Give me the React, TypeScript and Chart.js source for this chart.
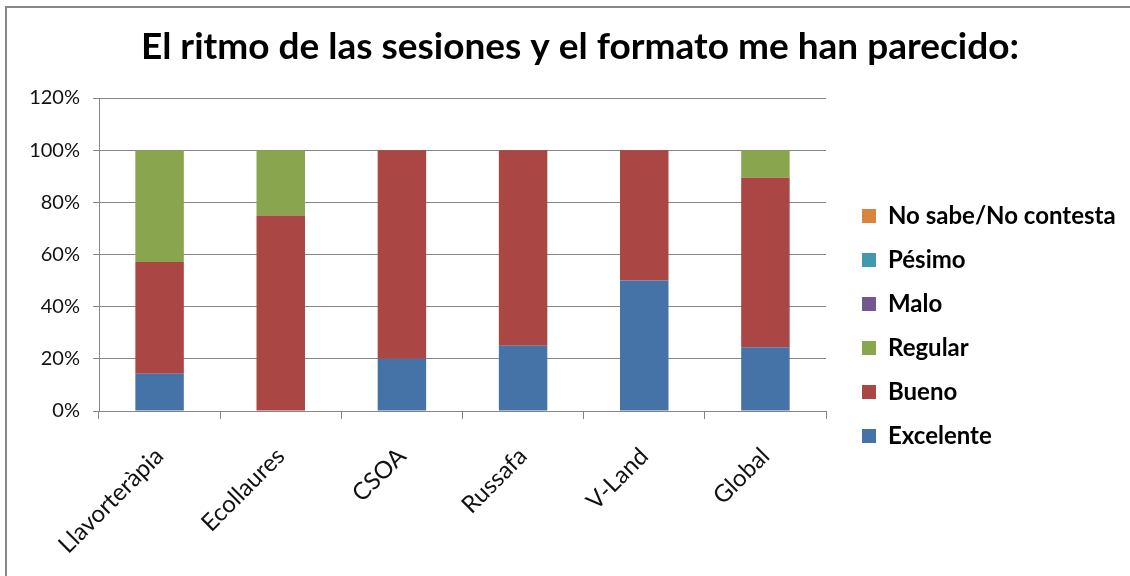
import React, { useEffect, useRef } from "react";
import { Chart, registerables } from "chart.js";

Chart.register(...registerables);

const titleText = "El ritmo de las sesiones y el formato me han parecido:";
const categories = ["Llavorteràpia", "Ecollaures", "CSOA", "Russafa", "V-Land", "Global"];
const excelente = [14.29, 0, 20, 25, 50, 24.4];
const bueno = [42.86, 75, 80, 75, 50, 65.0];
const regular = [42.85, 25, 0, 0, 0, 10.6];
const malo = [0, 0, 0, 0, 0, 0];
const pesimo = [0, 0, 0, 0, 0, 0];
const noSabe = [0, 0, 0, 0, 0, 0];

const seriesNames = ["Excelente", "Bueno", "Regular", "Malo", "Pésimo", "No sabe/No contesta"];
const seriesColors = ["#4572A7", "#AA4643", "#89A54E", "#71588F", "#4198AF", "#DB843D"];
const seriesValues = [excelente, bueno, regular, malo, pesimo, noSabe];

const FONT = "Lato";
const GRID = "#868686";

const legendPlacer = {
  id: "legendPlacer",
  beforeLayout(chart: any) {
    const lg = chart.legend;
    if (lg && !lg.__patched) {
      const orig = lg.fit.bind(lg);
      lg.fit = () => {
        orig();
        lg.width = 304;
      };
      lg.__patched = true;
    }
  },
  afterLayout(chart: any) {
    const lg = chart.legend;
    if (lg) {
      lg.left = 842;
      lg.top = 184;
    }
  },
};

export default function App() {
  const ref = useRef<HTMLCanvasElement>(null);

  useEffect(() => {
    document.body.style.margin = "0";
    const chart = new Chart(ref.current as HTMLCanvasElement, {
      type: "bar",
      data: {
        labels: categories,
        datasets: seriesNames.map((name, i) => ({
          label: name,
          data: seriesValues[i],
          backgroundColor: seriesColors[i],
          borderWidth: 0,
          barPercentage: 0.4,
          categoryPercentage: 1,
        })),
      },
      options: {
        responsive: false,
        animation: false,
        devicePixelRatio: 1,
        layout: { padding: { left: 30, right: 0, top: 0, bottom: 0 } },
        plugins: {
          title: {
            display: true,
            text: titleText,
            color: "#000",
            font: { family: FONT, size: 37, weight: "bold" },
            padding: { top: 25, bottom: 28.6 },
          },
          legend: {
            position: "right",
            align: "start",
            reverse: true,
            labels: {
              boxWidth: 14,
              boxHeight: 14,
              padding: 20,
              color: "#000",
              font: { family: FONT, size: 24, weight: "bold" },
            },
          },
          tooltip: { enabled: false },
        },
        scales: {
          x: {
            stacked: true,
            grid: { offset: true, drawOnChartArea: false, tickLength: 8, color: GRID },
            border: { color: GRID },
            ticks: {
              maxRotation: 45,
              minRotation: 45,
              color: "#111",
              padding: 23,
              font: { family: FONT, size: 24 },
            },
            afterFit: (s: any) => {
              s.height = 165;
            },
          },
          y: {
            stacked: true,
            min: 0,
            max: 120,
            ticks: {
              stepSize: 20,
              padding: 13,
              color: "#111",
              font: { family: FONT, size: 20 },
              callback: (v: any) => v + "%",
            },
            grid: { color: GRID, tickLength: 6 },
            border: { color: GRID },
            afterFit: (s: any) => {
              s.width = 69;
            },
          },
        },
      },
      plugins: [legendPlacer],
    });
    return () => chart.destroy();
  }, []);

  return (
    <div
      style={{
        position: "absolute",
        left: 0,
        top: 0,
        width: 1130,
        height: 576,
        overflow: "hidden",
        background: "#fff",
      }}
    >
      <canvas ref={ref} width={1130} height={576} style={{ position: "absolute", left: 0, top: 0 }} />
      <div style={{ position: "absolute", left: 5, top: 6, width: 1200, height: 2, background: "#878787" }} />
      <div style={{ position: "absolute", left: 5, top: 6, width: 2, height: 600, background: "#878787" }} />
    </div>
  );
}
